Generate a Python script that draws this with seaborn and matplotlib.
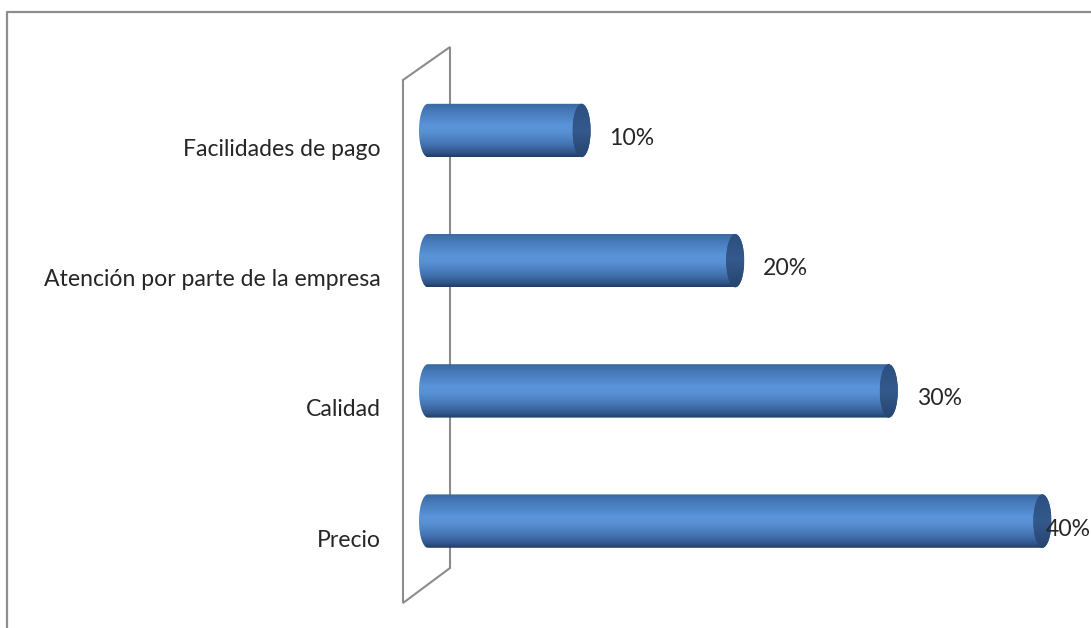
import numpy as np
import pandas as pd
import matplotlib
matplotlib.use("Agg")
import matplotlib.pyplot as plt
import seaborn as sns
from matplotlib.patches import Ellipse, PathPatch
from matplotlib.path import Path
from matplotlib.lines import Line2D
from matplotlib.colors import LinearSegmentedColormap
from matplotlib.transforms import ScaledTranslation

# Data
categorias = ["Facilidades de pago", "Atención por parte de la empresa", "Calidad", "Precio"]
porcentajes = [10, 20, 30, 40]
etiquetas = ["10%", "20%", "30%", "40%"]

sns.set_theme(style="white")
plt.rcParams["font.family"] = ["Lato", "DejaVu Sans"]

W, H, DPI = 1091, 628, 100
fig = plt.figure(figsize=(W / DPI, H / DPI), dpi=DPI)
ax_left = 395
ax = fig.add_axes([ax_left / W, 0, (W - ax_left) / W, 1])

df = pd.DataFrame({"categoria": categorias, "porcentaje": porcentajes})
bar_w = 0.41
sns.barplot(data=df, x="porcentaje", y="categoria", orient="h", width=bar_w,
            color="#4F86C9", saturation=1, ax=ax, zorder=3)

# scale: pixels per percent / per category slot
px_x = 15.36
px_y = 130.2
x0_px = 428.0   # where 0% sits
y0_px = 130.5   # centre of the first category
xmin = -(x0_px - ax_left) / px_x
xmax = xmin + (W - ax_left) / px_x
ytop = -y0_px / px_y
ybot = ytop + H / px_y

# cylinder shading
body_cmap = LinearSegmentedColormap.from_list(
    "cyl", [(0.0, "#3A679F"), (0.12, "#4477B6"), (0.42, "#5A94D9"),
            (0.55, "#5890D4"), (0.78, "#4271AE"), (0.92, "#30558A"),
            (1.0, "#213D66")])
cap_cmap = LinearSegmentedColormap.from_list(
    "cap", [(0.0, "#2C4F80"), (0.5, "#34598C"), (1.0, "#26456F")])
grad = np.linspace(0, 1, 256).reshape(-1, 1)

rx = 9.0 / px_x  # horizontal radius of the end ellipses
theta = np.linspace(0, np.pi, 60)
for p in list(ax.patches):
    v = p.get_x() + p.get_width()
    h = p.get_height()
    yc = p.get_y() + h / 2
    y_up, y_dn = yc - h / 2, yc + h / 2

    # body: rectangle from 0 to v, rounded on the left by half an ellipse
    left_arc = np.column_stack([-rx * np.sin(theta), yc + (h / 2) * np.cos(theta)])
    verts = np.vstack([[[0, y_up], [v, y_up], [v, y_dn]], left_arc, [[0, y_up]]])
    codes = [Path.MOVETO] + [Path.LINETO] * (len(verts) - 2) + [Path.CLOSEPOLY]
    body = PathPatch(Path(verts, codes), facecolor="none", edgecolor="none",
                     transform=ax.transData, zorder=3)
    ax.add_patch(body)
    im = ax.imshow(grad, cmap=body_cmap, aspect="auto", origin="upper",
                   extent=(-rx, v, y_dn, y_up), zorder=4, interpolation="bilinear")
    im.set_clip_path(body)
    p.set_visible(False)

    # end cap
    cap = Ellipse((v, yc), 2 * rx, h, facecolor="#2F5486", edgecolor="none",
                  transform=ax.transData, zorder=5)
    ax.add_patch(cap)
    imc = ax.imshow(grad, cmap=cap_cmap, aspect="auto", origin="upper",
                    extent=(v - rx, v + rx, y_dn, y_up), zorder=6,
                    interpolation="bilinear")
    imc.set_clip_path(cap)

# back wall of the category axis
wl = (403 - x0_px) / px_x
wr = (450 - x0_px) / px_x
wall = [(wl, (80 - y0_px) / px_y), (wr, (47 - y0_px) / px_y),
        (wr, (568 - y0_px) / px_y), (wl, (603 - y0_px) / px_y),
        (wl, (80 - y0_px) / px_y)]
ax.plot([q[0] for q in wall], [q[1] for q in wall], color="#8C8C8C",
        lw=1.5, zorder=1, solid_joinstyle="miter")

ax.set_xlim(xmin, xmax)
ax.set_ylim(ybot, ytop)
for s in ax.spines.values():
    s.set_visible(False)
ax.set_xticks([])
ax.set_xlabel("")
ax.set_ylabel("")
ax.tick_params(axis="y", length=0, pad=14 * 72 / DPI, labelsize=16.6,
               labelcolor="#262626")
shift = ScaledTranslation(0, -17 / DPI, fig.dpi_scale_trans)
for lab in ax.get_yticklabels():
    lab.set_transform(lab.get_transform() + shift)

# value labels
lab_shift = ScaledTranslation(0, -8 / DPI, fig.dpi_scale_trans)
gap = 28 / px_x
texts = []
for i, (v, s) in enumerate(zip(porcentajes, etiquetas)):
    texts.append(ax.text(v + gap, i, s, ha="left", va="center", fontsize=16.6,
                         color="#262626", transform=ax.transData + lab_shift,
                         zorder=7))
fig.canvas.draw()
renderer = fig.canvas.get_renderer()
for t in texts:
    bb = t.get_window_extent(renderer)
    if bb.x1 > W:
        t.set_x(xmax)
        t.set_ha("right")

# outer frame
fig.add_artist(Line2D([7 / W, 7 / W, 1], [0, 1 - 12 / H, 1 - 12 / H],
                      transform=fig.transFigure, color="#8E8E8E", lw=1.6))

fig.savefig("out.png", dpi=DPI, facecolor="white")
